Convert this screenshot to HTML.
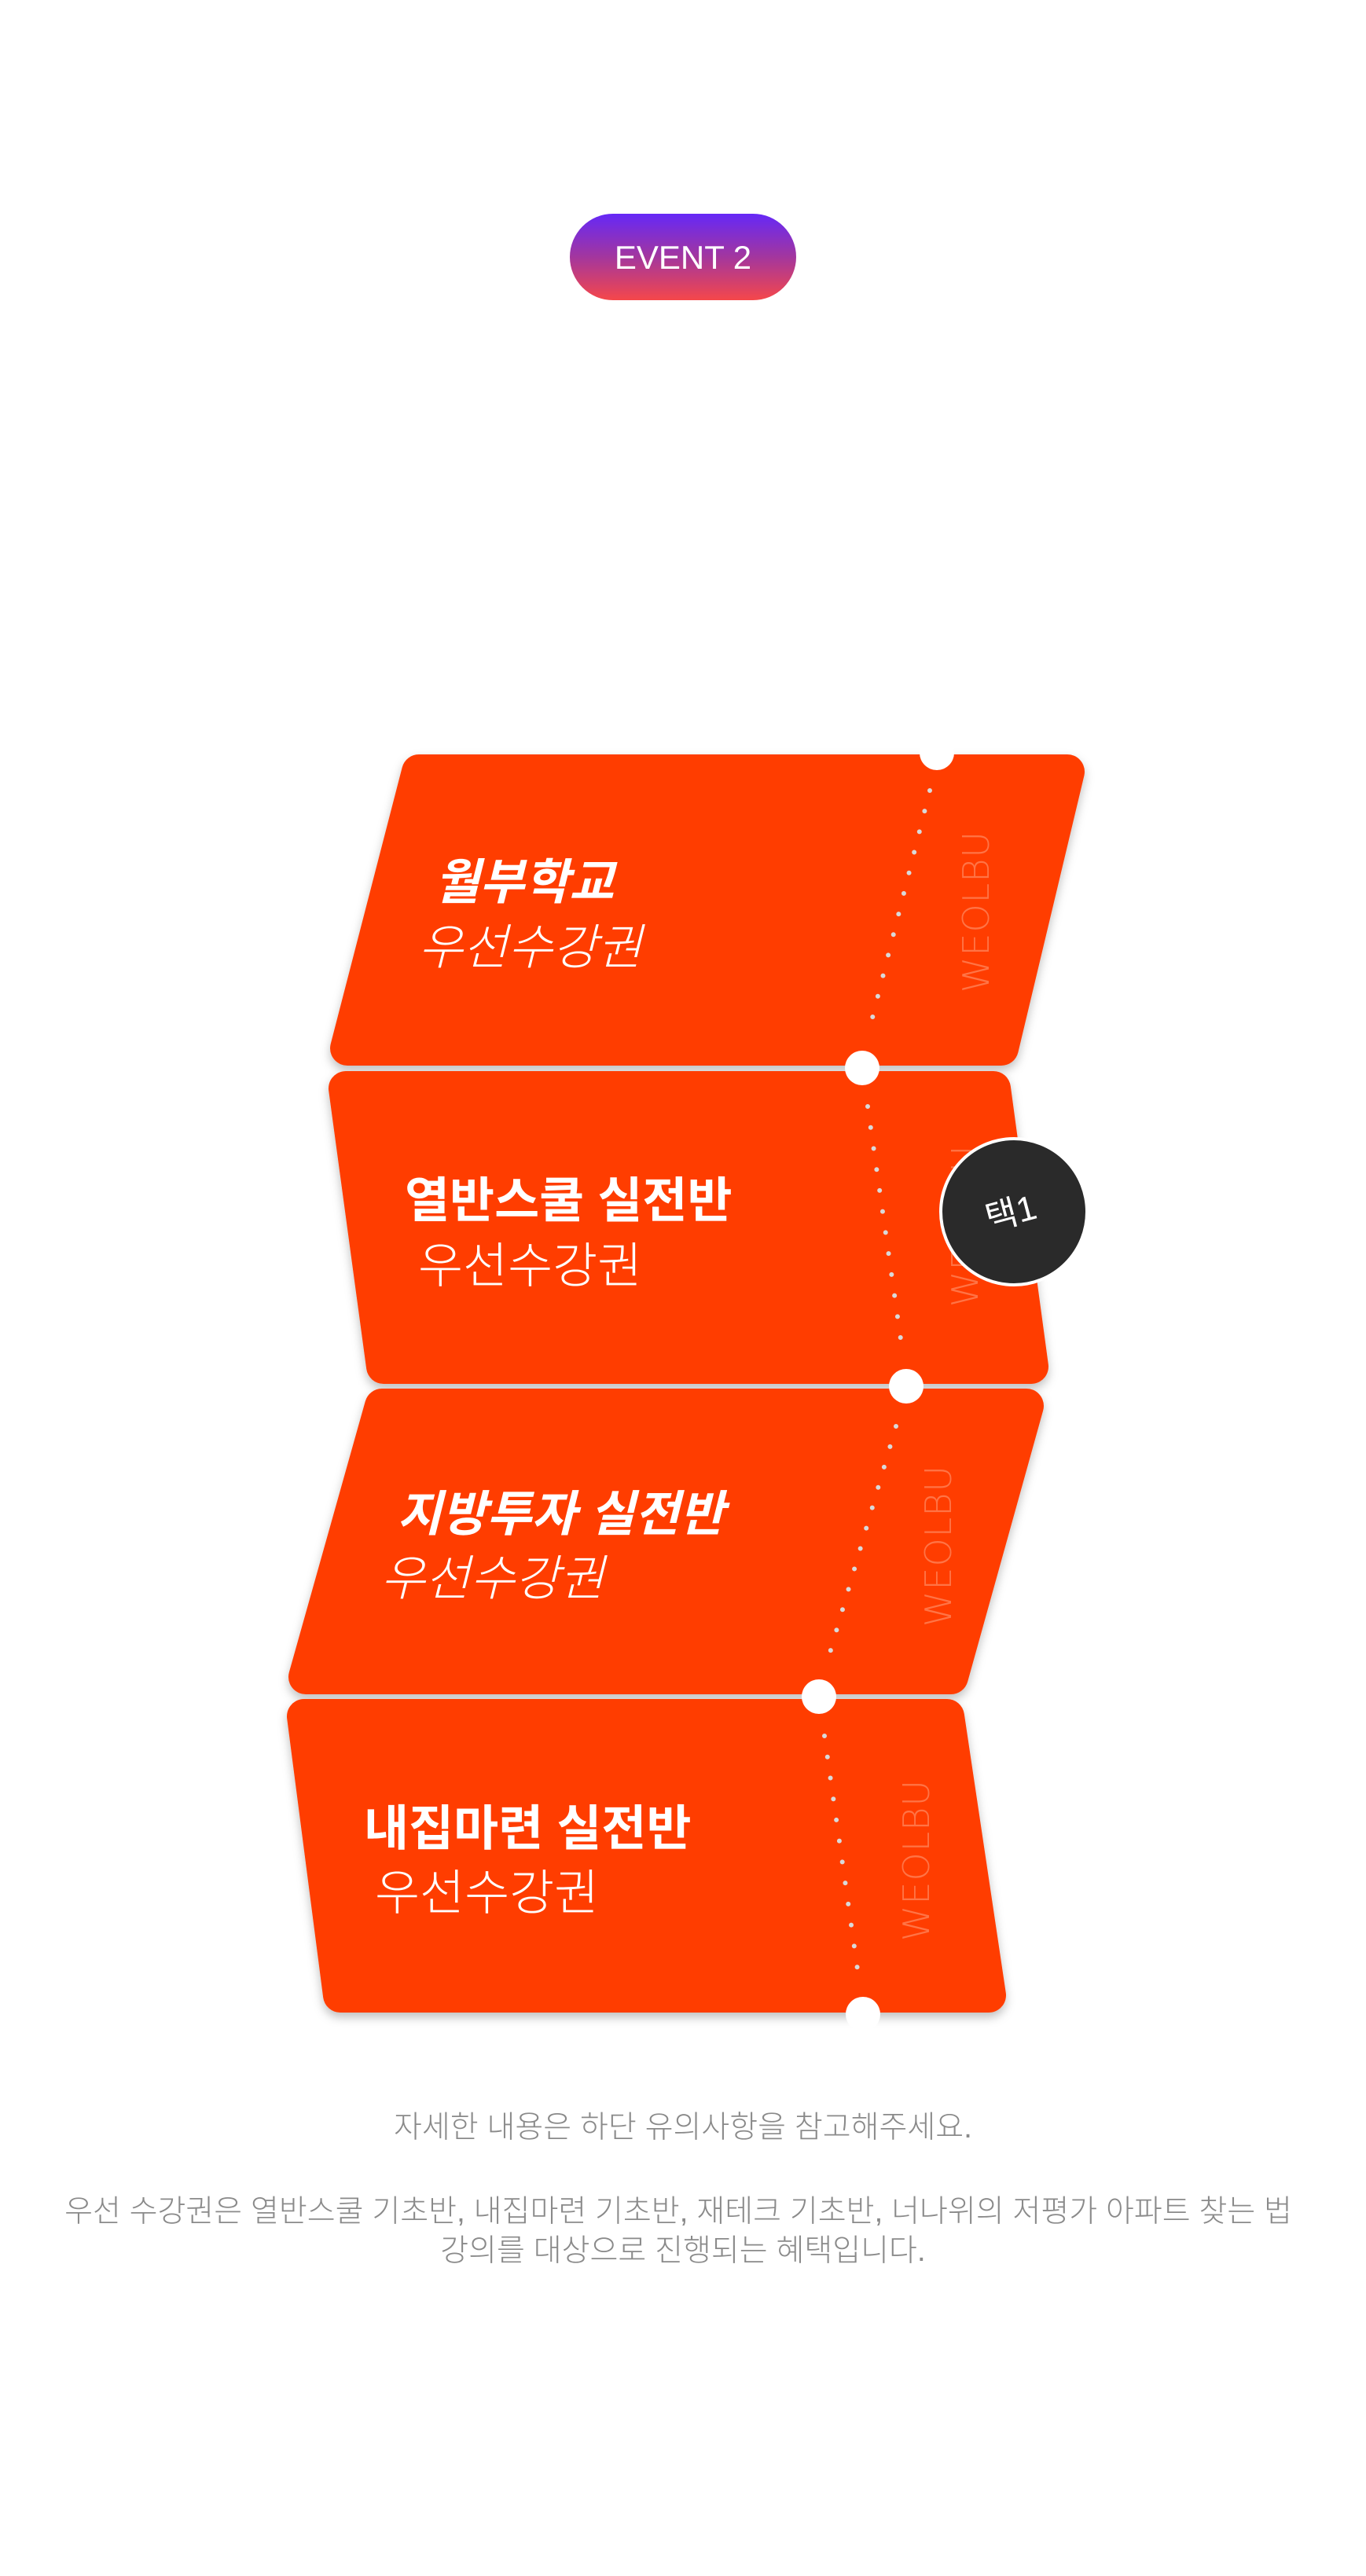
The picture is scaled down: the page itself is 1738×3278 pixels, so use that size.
<!DOCTYPE html>
<html><head><meta charset="utf-8"><style>
html,body{margin:0;padding:0;background:#fff;}
svg{display:block;}
</style></head><body>
<svg width="1738" height="3278" viewBox="0 0 1738 3278" xmlns="http://www.w3.org/2000/svg">
<defs>
<linearGradient id="bg" x1="0" y1="0" x2="0" y2="1">
<stop offset="0" stop-color="#6528f7"/><stop offset="0.5" stop-color="#a3369e"/><stop offset="1" stop-color="#f5474a"/>
</linearGradient>
<filter id="sh" x="-10%" y="-10%" width="120%" height="130%">
<feDropShadow dx="0" dy="6" stdDeviation="6" flood-color="#000" flood-opacity="0.25"/>
</filter>
</defs>
<rect x="725" y="272" width="288" height="110" rx="55" fill="url(#bg)"/>
<text x="869" y="342" text-anchor="middle" font-family="Liberation Sans, sans-serif" font-size="42" fill="#fff">EVENT 2</text>

<g fill="#ff3d00" stroke="#ff3d00" stroke-width="44" stroke-linejoin="round" filter="url(#sh)">
<polygon points="533,982 1358,982 1274,1334 442,1334"/>
<polygon points="440,1385 1264,1385 1312,1739 488,1739"/>
<polygon points="486,1789 1306,1789 1210,2134 389,2134"/>
<polygon points="387,2184 1205,2184 1258,2539 433,2539"/>
</g>
<g fill="#fff">
<circle cx="1192" cy="958" r="22"/>
<circle cx="1097" cy="1359" r="22"/>
<circle cx="1153" cy="1764" r="22"/>
<circle cx="1042" cy="2159" r="22"/>
<circle cx="1098" cy="2563" r="22"/>
</g>
<g stroke="#d9d9d9" stroke-width="6" stroke-linecap="round" stroke-dasharray="0 27">
<line x1="1183" y1="1006" x2="1109" y2="1299"/>
<line x1="1104" y1="1408" x2="1146" y2="1704"/>
<line x1="1140" y1="1815" x2="1056" y2="2103"/>
<line x1="1049" y1="2209" x2="1091" y2="2506"/>
</g>
<g font-family="DejaVu Sans, sans-serif" font-weight="200" font-size="46" fill="#ff7446" text-anchor="middle" letter-spacing="1">
<text transform="translate(1258,1160) rotate(-90)">WEOLBU</text>
<text transform="translate(1244,1560) rotate(-90)">WEOLBU</text>
<text transform="translate(1210,1967) rotate(-90)">WEOLBU</text>
<text transform="translate(1182,2367) rotate(-90)">WEOLBU</text>
</g>
<g font-family="Liberation Sans, 'Noto Sans CJK KR', sans-serif" fill="#fff" font-size="62">
<text x="553" y="1144" font-weight="700" font-style="italic">월부학교</text>
<text x="532" y="1227" font-weight="300" font-style="italic">우선수강권</text>
<text x="515" y="1549" font-weight="700">열반스쿨 실전반</text>
<text x="532" y="1632" font-weight="300">우선수강권</text>
<text x="505" y="1948" font-weight="700" font-style="italic">지방투자 실전반</text>
<text x="484" y="2030" font-weight="300" font-style="italic">우선수강권</text>
<text x="463" y="2348" font-weight="700">내집마련 실전반</text>
<text x="477" y="2430" font-weight="300">우선수강권</text>
</g>
<circle cx="1290" cy="1542" r="93" fill="#2a2a2a" stroke="#fff" stroke-width="4"/>
<text transform="translate(1290,1558) rotate(-15)" text-anchor="middle" font-family="Liberation Sans, 'Noto Sans CJK KR', sans-serif" font-size="44" fill="#fff">택1</text>
<g font-family="Liberation Sans, 'Noto Sans CJK KR', sans-serif" font-size="39" fill="#8a8a8a" text-anchor="middle" font-weight="300">
<text x="869" y="2720">자세한 내용은 하단 유의사항을 참고해주세요.</text>
<text x="863" y="2827">우선 수강권은 열반스쿨 기초반, 내집마련 기초반, 재테크 기초반, 너나위의 저평가 아파트 찾는 법</text>
<text x="869" y="2877">강의를 대상으로 진행되는 혜택입니다.</text>
</g>
</svg>
</body></html>
